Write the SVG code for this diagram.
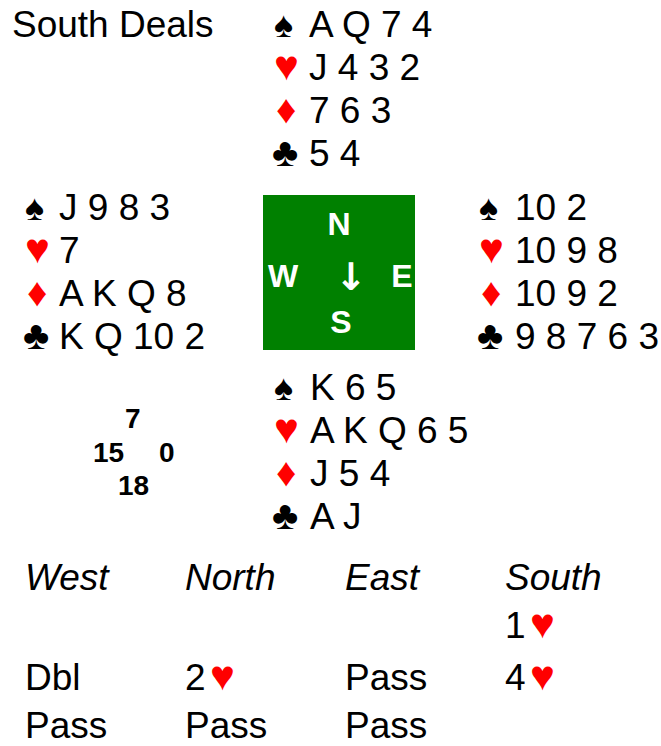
<svg xmlns="http://www.w3.org/2000/svg" width="661" height="746" viewBox="0 0 661 746">
<style>
text{font-family:"Liberation Sans",Arial,sans-serif;fill:#000}
.c{font-size:37px}
.sp{font-size:36px}
.hr{font-size:42px;fill:#ff0000}
.dm{font-size:40px;fill:#ff0000}
.cl{font-size:40px}
.bh{font-size:42px;fill:#ff0000}
.h{font-size:28px;font-weight:bold}
.cp{font-size:32px;font-weight:bold;fill:#fff;text-anchor:middle}
.ar{font-family:"DejaVu Sans",sans-serif;font-size:38px;font-weight:bold;fill:#fff;text-anchor:middle}
.i{font-size:37px;font-style:italic}
</style>
<rect width="661" height="746" fill="#fff"/>
<g id="title"><text class="c" x="12" y="37">South Deals</text></g>
<g id="north">
<text class="sp" x="274" y="37">♠</text><text class="c" x="309" y="37">A Q 7 4</text>
<text class="hr" x="274" y="80">♥</text><text class="c" x="309" y="80">J 4 3 2</text>
<text class="dm" x="276" y="123">♦</text><text class="c" x="309" y="123">7 6 3</text>
<text class="cl" x="272" y="166">♣</text><text class="c" x="309" y="166">5 4</text>
</g>
<g id="west">
<text class="sp" x="25" y="220">♠</text><text class="c" x="59" y="220">J 9 8 3</text>
<text class="hr" x="25" y="263">♥</text><text class="c" x="59" y="263">7</text>
<text class="dm" x="27" y="306">♦</text><text class="c" x="59" y="306">A K Q 8</text>
<text class="cl" x="23" y="349">♣</text><text class="c" x="59" y="349">K Q 10 2</text>
</g>
<g id="east">
<text class="sp" x="479" y="220">♠</text><text class="c" x="515" y="220">10 2</text>
<text class="hr" x="479" y="263">♥</text><text class="c" x="515" y="263">10 9 8</text>
<text class="dm" x="481" y="306">♦</text><text class="c" x="515" y="306">10 9 2</text>
<text class="cl" x="477" y="349">♣</text><text class="c" x="515" y="349">9 8 7 6 3</text>
</g>
<g id="compass">
<rect x="263" y="195" width="152" height="155" fill="#008000"/>
<text class="cp" x="339" y="235">N</text>
<text class="cp" x="283" y="287">W</text>
<text class="ar" x="351" y="290">↓</text>
<text class="cp" x="402" y="287">E</text>
<text class="cp" x="341" y="333">S</text>
</g>
<g id="south">
<text class="sp" x="274" y="400">♠</text><text class="c" x="310" y="400">K 6 5</text>
<text class="hr" x="274" y="443">♥</text><text class="c" x="310" y="443">A K Q 6 5</text>
<text class="dm" x="276" y="486">♦</text><text class="c" x="310" y="486">J 5 4</text>
<text class="cl" x="272" y="529">♣</text><text class="c" x="310" y="529">A J</text>
</g>
<g id="hcp">
<text class="h" x="125" y="428">7</text>
<text class="h" x="93" y="462">15</text>
<text class="h" x="159" y="462">0</text>
<text class="h" x="118" y="495">18</text>
</g>
<g id="auction">
<text class="i" x="25" y="590">West</text>
<text class="i" x="185" y="590">North</text>
<text class="i" x="345" y="590">East</text>
<text class="i" x="505" y="590">South</text>
<text class="c" x="505" y="638">1</text><text class="bh" x="530" y="638">♥</text>
<text class="c" x="25" y="690">Dbl</text>
<text class="c" x="185" y="690">2</text><text class="bh" x="210" y="690">♥</text>
<text class="c" x="345" y="690">Pass</text>
<text class="c" x="505" y="690">4</text><text class="bh" x="530" y="690">♥</text>
<text class="c" x="25" y="738">Pass</text>
<text class="c" x="185" y="738">Pass</text>
<text class="c" x="345" y="738">Pass</text>
</g>
</svg>
